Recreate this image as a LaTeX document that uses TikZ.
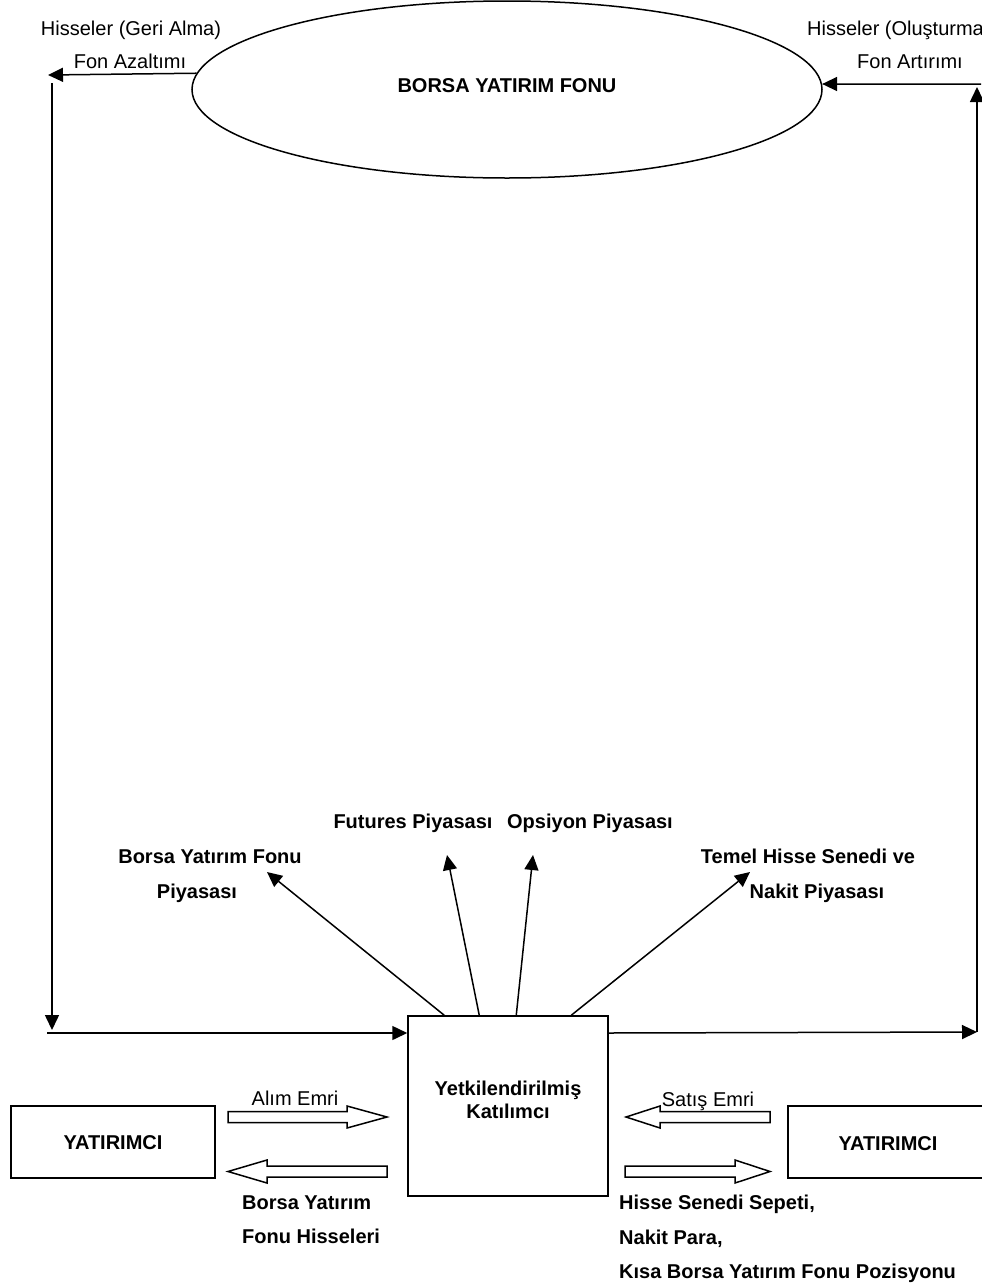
\documentclass[tikz,border=0pt]{standalone}
\usepackage{fontspec}
\setmainfont{Liberation Sans}
\usetikzlibrary{arrows.meta,shapes.geometric}
\begin{document}
\begin{tikzpicture}[x=1pt,y=-1pt,
  ln/.style={line width=1.5pt},
  arr/.style={ln,-{Triangle[length=15pt,width=14pt]}},
  blk/.style={ln,fill=white,line join=miter},
  txt/.style={font=\fontsize{20}{23}\selectfont,inner sep=0pt,anchor=base},
  btxt/.style={txt,font=\fontsize{20}{23}\selectfont\bfseries},
  boxst/.style={draw,ln,rectangle,inner sep=0pt}]
\useasboundingbox (0,0) rectangle (982,1288);

% fund ellipse
\node[draw,ln,ellipse,minimum width=630pt,minimum height=177pt,inner sep=0pt] (fund) at (507,89.5) {};
\node[btxt] (fundt) at (507,92) {BORSA YATIRIM FONU};

% authorized participant
\node[boxst,minimum width=200pt,minimum height=180pt] (ap) at (508,1106) {};
\node[btxt] (ap1) at (508,1095) {Yetkilendirilmiş};
\node[btxt] (ap2) at (508,1118) {Katılımcı};

% investors
\node[boxst,minimum width=204pt,minimum height=72pt] (invL) at (113,1142) {};
\node[btxt] (invLt) at (113,1149) {YATIRIMCI};
\node[boxst,minimum width=200pt,minimum height=72pt] (invR) at (888,1142) {};
\node[btxt] (invRt) at (888,1150) {YATIRIMCI};

% loop coordinates
\coordinate (tl) at (48,75);
\coordinate (vl1) at (52,83);
\coordinate (vl2) at (52,1030);
\coordinate (bl) at (47,1033);
\coordinate (br) at (977,1032);
\coordinate (tr) at (977,87);
\coordinate (trh) at (981,84);

\draw[arr] (fund.177.3) -- (tl);
\draw[arr] (vl1) -- (vl2);
\draw[arr] (bl) -- (bl -| ap.west);
\draw[arr] (ap.east |- bl) -- (br);
\draw[arr] (br) -- (tr);
\draw[arr] (trh) -- (fund.1);

\node[txt] (hl1) at (131,35) {Hisseler (Geri Alma)};
\node[txt] (hl2) at (130,68) {Fon Azaltımı};
\node[txt,anchor=base west] (hr1) at (807,35) {Hisseler (Oluşturma};
\node[txt] (hr2) at (910,68) {Fon Artırımı};

% market arrows
\coordinate (m1) at (267,872);
\coordinate (m2) at (447,855);
\coordinate (m3) at (533,855);
\coordinate (m4) at (750,872);
\draw[arr] ([xshift=37pt]ap.north west) -- (m1);
\draw[arr] ([xshift=72pt]ap.north west) -- (m2);
\draw[arr] ([xshift=109pt]ap.north west) -- (m3);
\draw[arr] ([xshift=164pt]ap.north west) -- (m4);

\node[btxt] (l1a) at (210,863) {Borsa Yatırım Fonu};
\node[btxt] (l1b) at (197,898) {Piyasası};
\node[btxt] (l2) at (413,828) {Futures Piyasası};
\node[btxt] (l3) at (590,828) {Opsiyon Piyasası};
\node[btxt] (l4a) at (808,863) {Temel Hisse Senedi ve};
\node[btxt] (l4b) at (817,898) {Nakit Piyasası};

% block arrows
\draw[blk] (228,1111.5) -- (347,1111.5) -- (347,1106) -- (387,1117) -- (347,1128) -- (347,1122.5) -- (228,1122.5) -- cycle;
\draw[blk] (387,1166) -- (267,1166) -- (267,1160) -- (228,1171.5) -- (267,1183) -- (267,1177) -- (387,1177) -- cycle;
\draw[blk] (770,1111.5) -- (660,1111.5) -- (660,1106) -- (626,1117) -- (660,1128) -- (660,1122.5) -- (770,1122.5) -- cycle;
\draw[blk] (625,1166) -- (735,1166) -- (735,1160) -- (770,1171.5) -- (735,1183) -- (735,1177) -- (625,1177) -- cycle;

\node[txt] (alim) at (295,1105) {Alım Emri};
\node[txt] (satis) at (708,1106) {Satış Emri};
\node[btxt,anchor=base west] (bl1) at (242,1209) {Borsa Yatırım};
\node[btxt,anchor=base west] (bl2) at (242,1243) {Fonu Hisseleri};
\node[btxt,anchor=base west] (br1) at (619,1209) {Hisse Senedi Sepeti,};
\node[btxt,anchor=base west] (br2) at (619,1244) {Nakit Para,};
\node[btxt,anchor=base west] (br3) at (619,1278) {Kısa Borsa Yatırım Fonu Pozisyonu};
\end{tikzpicture}
\end{document}
